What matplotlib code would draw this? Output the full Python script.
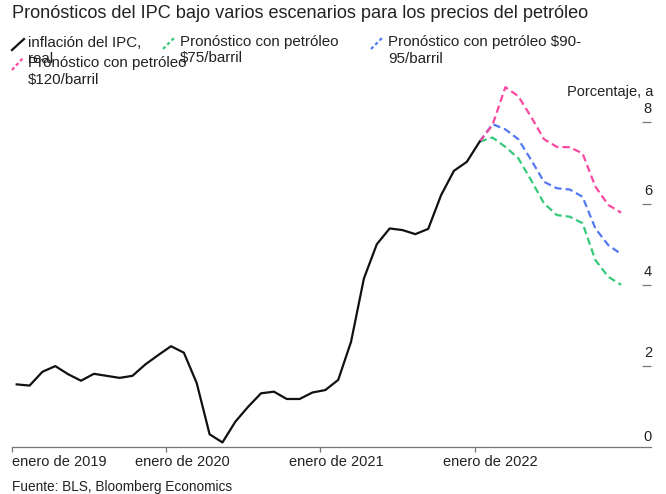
import matplotlib
matplotlib.use("Agg")
import matplotlib.pyplot as plt
from matplotlib.lines import Line2D
from matplotlib.transforms import blended_transform_factory
import numpy as np

plt.rcParams['font.family'] = ['Liberation Sans', 'DejaVu Sans']

# ---- data (monthly, index 0 = enero 2019) ----
cpi_actual = [1.55, 1.52, 1.86, 2.0, 1.8, 1.64, 1.81, 1.76, 1.71, 1.76, 2.04, 2.27,
              2.49, 2.33, 1.58, 0.32, 0.12, 0.63, 1.0, 1.33, 1.37, 1.19, 1.19, 1.35,
              1.41, 1.66, 2.6, 4.16, 5.0, 5.39, 5.35, 5.25, 5.38, 6.21, 6.81, 7.03,
              7.53]
# forecasts start at enero 2022 (index 36) and run to diciembre 2022
fc_75 = [7.53, 7.63, 7.40, 7.12, 6.58, 6.01, 5.72, 5.68, 5.52, 4.61, 4.20, 4.0]
fc_90_95 = [7.53, 7.96, 7.83, 7.59, 7.08, 6.54, 6.38, 6.35, 6.17, 5.39, 4.98, 4.76]
fc_120 = [7.53, 7.94, 8.87, 8.65, 8.14, 7.59, 7.40, 7.39, 7.24, 6.42, 5.97, 5.78]
forecast_start = 36
years = ['2019', '2020', '2021', '2022']
ytick_vals = [0, 2, 4, 6, 8]

labels = ['inflación del IPC,\nreal', 'Pronóstico con petróleo\n$75/barril',
          'Pronóstico con petróleo $90-\n95/barril', 'Pronóstico con petróleo\n$120/barril']
title = 'Pronósticos del IPC bajo varios escenarios para los precios del petróleo'
source = 'Fuente: BLS, Bloomberg Economics'
unit = 'Porcentaje, a'

C_BLACK = '#111111'
C_GREEN = '#35c97a'
C_BLUE = '#5479f2'
C_PINK = '#f9489f'
C_TEXT = '#222222'
C_AXIS = '#777777'

W, H = 666, 494
fig = plt.figure(figsize=(W / 100, H / 100), dpi=100)

def fx(x):
    return x / W

def fy(y):
    return 1 - y / H

# axes geometry (pixels)
ax_left, ax_right = 11.7, 651
ax_bottom, ymax = 447.3, 9.0
px_per_unit = 40.6
ax_top = ax_bottom - ymax * px_per_unit
ax = fig.add_axes([fx(ax_left), fy(ax_bottom), (ax_right - ax_left) / W,
                   (ax_bottom - ax_top) / H])
px_per_month = 12.86
x0 = -5.0 / px_per_month  # tick for enero 2019 sits ~5px left of first point
ax.set_xlim(x0, x0 + (ax_right - ax_left) / px_per_month)
ax.set_ylim(0, ymax)

xa = np.arange(len(cpi_actual))
ax.plot(xa, cpi_actual, color=C_BLACK, lw=1.6, solid_joinstyle='round', zorder=4)
dash = (3.3, 1.8)
for vals, col in [(fc_75, C_GREEN), (fc_90_95, C_BLUE), (fc_120, C_PINK)]:
    xf = np.arange(forecast_start, forecast_start + len(vals))
    ax.plot(xf, vals, color=col, lw=1.6, linestyle=(0, dash), zorder=3)

for s in ['top', 'left', 'right']:
    ax.spines[s].set_visible(False)
ax.spines['bottom'].set_color(C_AXIS)
ax.spines['bottom'].set_linewidth(0.9)

xt = [x0 + 12 * i for i in range(len(years))]
ax.set_xticks(xt)
ax.set_xticklabels([])
ax.tick_params(axis='x', direction='out', length=3.5, width=0.9, color=C_AXIS)
ax.set_yticks(ytick_vals[1:])
ax.set_yticklabels([])
ax.tick_params(axis='y', left=False, right=True, direction='in', length=6.5,
               width=0.9, color=C_AXIS)

# x labels
trans = blended_transform_factory(ax.transData, fig.transFigure)
for i, (t, yr) in enumerate(zip(xt, years)):
    if i == 0:
        fig.text(fx(12), fy(461.7), 'enero de ' + yr, ha='left', va='center',
                 fontsize=10.5, color=C_TEXT)
    else:
        ax.text(t + 16 / px_per_month, fy(461.7), 'enero de ' + yr, transform=trans,
                ha='center', va='center', fontsize=10.5, color=C_TEXT)

# y labels
for v in ytick_vals:
    off = 10.6 if v == 0 else 13.0
    ax.annotate(str(v), xy=(1, v), xycoords=('axes fraction', 'data'),
                xytext=(1 * 0.72, off * 0.72), textcoords='offset points',
                ha='right', va='center', fontsize=10.5, color=C_TEXT)

fig.text(fx(653), fy(91.7), unit, ha='right', va='center', fontsize=10.5, color=C_TEXT)

# title and source
fig.text(fx(12), fy(14), title, ha='left', va='center', fontsize=13.1, color=C_TEXT)
fig.text(fx(12), fy(487), source, ha='left', va='center', fontsize=9.8, color=C_TEXT)

# legend (manual, Bloomberg style)
legend_items = [
    (C_BLACK, '-', (12, 50, 24, 39), 28, (43, 59)),
    (C_GREEN, '--', (163, 49, 175, 37), 180, (42, 58)),
    (C_BLUE, '--', (371, 49, 383, 37), 388, (42, 59)),
    (C_PINK, '--', (12, 70, 23, 58), 28, (63, 80)),
]
for (col, ls, (xa1, ya1, xa2, ya2), tx, tys), lab in zip(legend_items, labels):
    line = Line2D([fx(xa1), fx(xa2)], [fy(ya1), fy(ya2)], color=col, lw=1.6,
                  linestyle=ls if ls == '-' else (0, (1.5, 1.2)),
                  transform=fig.transFigure)
    fig.add_artist(line)
    for ty, part in zip(tys, lab.split('\n')):
        fig.text(fx(tx), fy(ty), part, ha='left', va='center', fontsize=10.9,
                 color=C_TEXT)

fig.savefig('out.png', dpi=100)
